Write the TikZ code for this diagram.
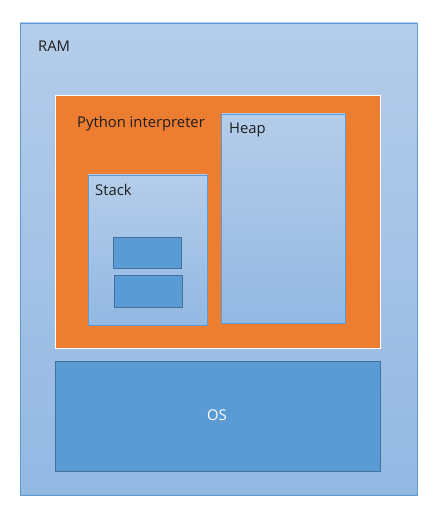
\documentclass[tikz,border=0pt]{standalone}
\usepackage{fontspec}
\setmainfont{Open Sans}
\definecolor{ramtop}{RGB}{180,205,234}
\definecolor{rambot}{RGB}{147,184,226}
\definecolor{accent}{RGB}{91,155,213}
\definecolor{darkedge}{RGB}{65,113,156}
\definecolor{orangefill}{RGB}{237,125,49}
\definecolor{txt}{RGB}{30,30,30}
\begin{document}
\begin{tikzpicture}[x=1bp,y=-1bp,
  gradbox/.style={draw=accent,line width=0.8bp,top color=ramtop,bottom color=rambot},
  solidbox/.style={draw=darkedge,line width=0.8bp,fill=accent},
  interp/.style={draw=white,line width=1bp,fill=orangefill},
  lbl/.style={anchor=base west,inner sep=0pt,font=\fontsize{14.8bp}{17bp}\selectfont,text=txt}]
\useasboundingbox (0,0) rectangle (435,510);
\draw[gradbox] (20,23) rectangle (417,495);
\node[lbl] (ramlbl) at (38,52) {RAM};
\draw[interp] (55,96) rectangle (380,348);
\node[lbl] (pylbl) at (77,127.5) {Python interpreter};
\draw[gradbox] (88,175) rectangle (207,325);
\node[lbl] (stacklbl) at (95,195.5) {Stack};
\draw[solidbox] (113,237) rectangle (181,268);
\draw[solidbox] (114,275) rectangle (182,307);
\draw[gradbox] (221.5,114) rectangle (345,323.5);
\node[lbl] (heaplbl) at (229,133.5) {Heap};
\draw[solidbox] (55,361) rectangle (380,471);
\node[lbl,anchor=base,text=white] (oslbl) at (217,420.5) {OS};
\end{tikzpicture}
\end{document}
